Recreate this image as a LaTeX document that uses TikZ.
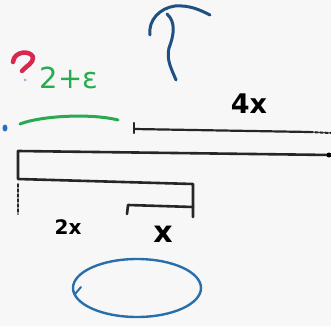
\documentclass[tikz,border=0pt]{standalone}
\usepackage{fontspec}
\setsansfont{DejaVu Sans}
\begin{document}
\begin{tikzpicture}[x=1pt,y=-1pt,
  ink/.style={line width=2.6pt,line cap=round,line join=round},
  blk/.style={ink,black!85},
  blu/.style={ink,color={rgb,255:red,30;green,80;blue,130}},
  grn/.style={ink,color={rgb,255:red,40;green,170;blue,80}},
  lbl/.style={font=\sffamily,inner sep=0pt}]
\fill[gray!6] (0,0) rectangle (331,326);
\useasboundingbox (0,0) rectangle (331,326);
% blue squiggle top
\draw[blu,line width=3pt] (150,35) .. controls (148,20) and (160,8) .. (175,6) .. controls (190,5) and (200,10) .. (210,15);
\draw[blu,line width=3pt] (167,14) .. controls (176,22) and (174,35) .. (169,48) .. controls (166,60) and (172,70) .. (176,80);
% red question mark and dot
\draw[ink,color={rgb,255:red,215;green,40;blue,80},line width=4.5pt] (13,62) .. controls (14,51) and (30,50) .. (33,57) .. controls (34,63) and (26,66) .. (22,71);
\fill[color={rgb,255:red,150;green,180;blue,220}] (25,80) circle (1.5);
% green text and line
\node[lbl,text={rgb,255:red,40;green,170;blue,80},font=\sffamily\fontsize{29}{29}\selectfont] (eps) at (69,78) {2+ε};
\draw[grn,line width=3pt] (20,124) .. controls (40,116) and (90,113) .. (118,120);
\fill[color={rgb,255:red,40;green,110;blue,200}] (5,128) ellipse (2.5 and 3.5);
% 4x line
\node[lbl,font=\sffamily\bfseries\fontsize{27}{27}\selectfont] (fourx) at (249,104) {4x};
\draw[blk,line width=2.2pt] (134,123) -- (134,133);
\draw[blk,line width=2.2pt] (134,129) -- (310,132);
\draw[blk,line width=2pt,dash pattern=on 3pt off 2pt] (310,132) -- (331,133);
% big bracket
\draw[blk] (331,155) -- (18,151) -- (18,179) -- (193,184) -- (193,217);
\fill[black] (329,155) circle (2.5);
\draw[blk,line width=1.8pt,dash pattern=on 3pt off 2pt] (18,184) -- (18,214);
% small bracket
\draw[blk] (127,214) -- (128,205) -- (193,207);
% labels
\node[lbl,font=\sffamily\bfseries\fontsize{20}{20}\selectfont] (twox) at (68,227) {2x};
\node[lbl,font=\sffamily\bfseries\fontsize{30}{30}\selectfont] (x) at (163,234) {x};
% blue ellipse
\draw[blu,line width=2.4pt,color={rgb,255:red,40;green,110;blue,170}] (137,288) ellipse (64 and 29);
\draw[blu,line width=2pt,color={rgb,255:red,40;green,110;blue,170}] (75,294) -- (81,287);
\end{tikzpicture}
\end{document}
